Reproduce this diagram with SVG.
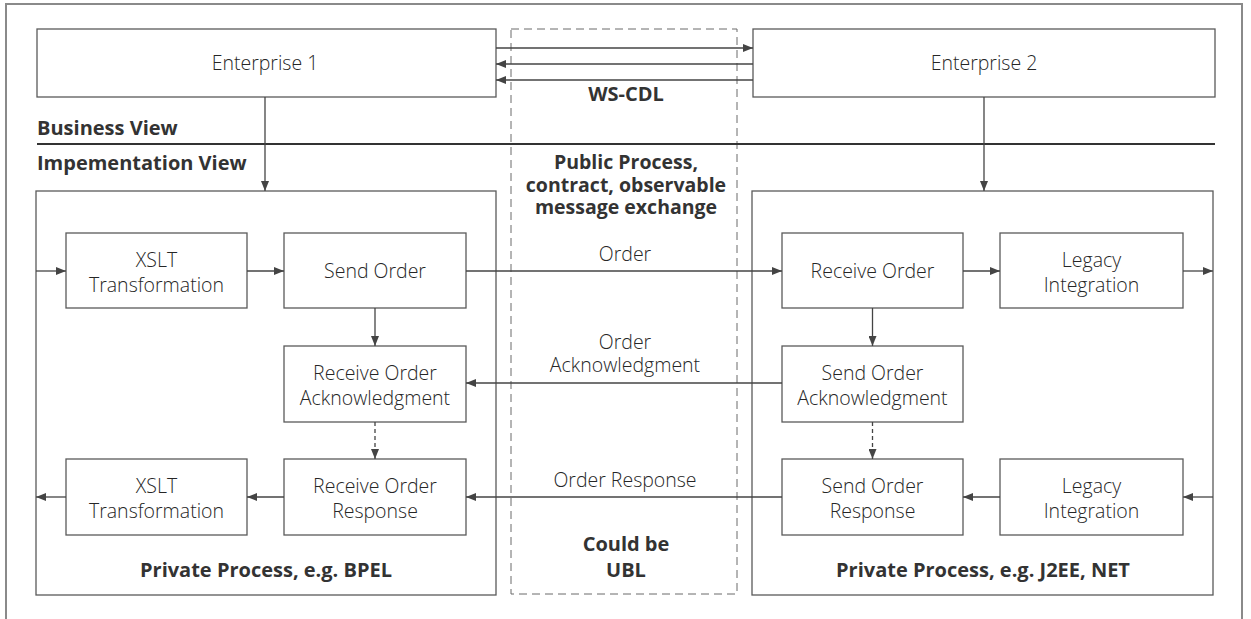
<svg xmlns="http://www.w3.org/2000/svg" width="1251" height="619" viewBox="0 0 1251 619">
<style>
  .bg { fill: #ffffff; }
  .frame { fill: none; stroke: #8a8a8a; stroke-width: 2; }
  .box { fill: #ffffff; stroke: #5a5a5a; stroke-width: 1.3; }
  .panel { fill: none; stroke: #5a5a5a; stroke-width: 1.3; }
  .dash { fill: none; stroke: #6a6a6a; stroke-width: 1; stroke-dasharray: 8 5; }
  .sep { stroke: #333333; stroke-width: 2; }
  .conn { fill: none; stroke: #444444; stroke-width: 1.3; }
  .dconn { fill: none; stroke: #444444; stroke-width: 1.3; stroke-dasharray: 4 3; }
  text { font-family: "Open Sans", "Noto Sans", "Liberation Sans", sans-serif; fill: #262626; }
  .t { font-size: 19.5px; font-weight: 300; text-anchor: middle; }
  .b { font-size: 20px; font-weight: bold; text-anchor: middle; fill: #333333; }
  .bs { font-size: 19.5px; font-weight: bold; text-anchor: middle; fill: #333333; }
  .bl { font-size: 20px; font-weight: bold; fill: #333333; }
</style>
<defs>
  <marker id="ah" viewBox="0 0 10 8" refX="10" refY="4" markerWidth="10" markerHeight="8" markerUnits="userSpaceOnUse" orient="auto">
    <path d="M0,0 L10,4 L0,8 Z" fill="#444444"/>
  </marker>
</defs>
<rect class="bg" x="0" y="0" width="1251" height="619"/>
<rect class="frame" x="6" y="4" width="1236" height="630"/>

<g id="public-area">
  <rect class="dash" x="511" y="29" width="226" height="565"/>
  <text class="b" x="626" y="101">WS-CDL</text>
  <text class="bs" x="626" y="169">Public Process,</text>
  <text class="bs" x="626" y="191.5">contract, observable</text>
  <text class="bs" x="626" y="214">message exchange</text>
  <text class="b" x="626" y="551">Could be</text>
  <text class="b" x="626" y="577">UBL</text>
</g>

<g id="views">
  <text class="bl" x="37" y="135">Business View</text>
  <line class="sep" x1="37" y1="144" x2="1215" y2="144"/>
  <text class="bl" x="37" y="170">Impementation View</text>
</g>

<g id="enterprise1">
  <rect class="box" x="37" y="29" width="459" height="68"/>
  <text class="t" x="265" y="70">Enterprise 1</text>
</g>
<g id="enterprise2">
  <rect class="box" x="753" y="29" width="462" height="68"/>
  <text class="t" x="984" y="70">Enterprise 2</text>
</g>

<g id="private-left">
  <rect class="panel" x="36" y="191" width="460" height="404"/>
  <text class="b" x="266" y="577">Private Process, e.g. BPEL</text>
</g>
<g id="private-right">
  <rect class="panel" x="752" y="191" width="461" height="404"/>
  <text class="b" x="983" y="577">Private Process, e.g. J2EE, NET</text>
</g>

<g id="xslt-top">
  <rect class="box" x="66" y="233" width="181" height="75"/>
  <text class="t" x="156.5" y="267">XSLT</text>
  <text class="t" x="156.5" y="292">Transformation</text>
</g>
<g id="send-order">
  <rect class="box" x="284" y="233" width="182" height="75"/>
  <text class="t" x="375" y="278">Send Order</text>
</g>
<g id="receive-ack">
  <rect class="box" x="284" y="346" width="182" height="76"/>
  <text class="t" x="375" y="380">Receive Order</text>
  <text class="t" x="375" y="405">Acknowledgment</text>
</g>
<g id="receive-response">
  <rect class="box" x="284" y="459" width="182" height="76"/>
  <text class="t" x="375" y="493">Receive Order</text>
  <text class="t" x="375" y="518">Response</text>
</g>
<g id="xslt-bottom">
  <rect class="box" x="66" y="459" width="181" height="76"/>
  <text class="t" x="156.5" y="493">XSLT</text>
  <text class="t" x="156.5" y="518">Transformation</text>
</g>

<g id="receive-order">
  <rect class="box" x="782" y="233" width="181" height="75"/>
  <text class="t" x="872.5" y="278">Receive Order</text>
</g>
<g id="legacy-top">
  <rect class="box" x="1000" y="233" width="183" height="75"/>
  <text class="t" x="1091.5" y="267">Legacy</text>
  <text class="t" x="1091.5" y="292">Integration</text>
</g>
<g id="send-ack">
  <rect class="box" x="782" y="346" width="181" height="76"/>
  <text class="t" x="872.5" y="380">Send Order</text>
  <text class="t" x="872.5" y="405">Acknowledgment</text>
</g>
<g id="send-response">
  <rect class="box" x="782" y="459" width="181" height="76"/>
  <text class="t" x="872.5" y="493">Send Order</text>
  <text class="t" x="872.5" y="518">Response</text>
</g>
<g id="legacy-bottom">
  <rect class="box" x="1000" y="459" width="183" height="76"/>
  <text class="t" x="1091.5" y="493">Legacy</text>
  <text class="t" x="1091.5" y="518">Integration</text>
</g>

<g id="connectors">
  <line class="conn" x1="496" y1="48" x2="753" y2="48" marker-end="url(#ah)"/>
  <line class="conn" x1="753" y1="64" x2="496" y2="64" marker-end="url(#ah)"/>
  <line class="conn" x1="753" y1="80" x2="496" y2="80" marker-end="url(#ah)"/>
  <line class="conn" x1="265" y1="97" x2="265" y2="191" marker-end="url(#ah)"/>
  <line class="conn" x1="984" y1="97" x2="984" y2="191" marker-end="url(#ah)"/>

  <line class="conn" x1="36" y1="271" x2="66" y2="271" marker-end="url(#ah)"/>
  <line class="conn" x1="247" y1="271" x2="284" y2="271" marker-end="url(#ah)"/>
  <line class="conn" x1="375" y1="308" x2="375" y2="346" marker-end="url(#ah)"/>
  <line class="dconn" x1="375" y1="422" x2="375" y2="459" marker-end="url(#ah)"/>
  <line class="conn" x1="284" y1="497" x2="247" y2="497" marker-end="url(#ah)"/>
  <line class="conn" x1="66" y1="497" x2="36" y2="497" marker-end="url(#ah)"/>

  <line class="conn" x1="466" y1="271" x2="782" y2="271" marker-end="url(#ah)"/>
  <text class="t" x="625" y="261">Order</text>
  <line class="conn" x1="782" y1="383" x2="466" y2="383" marker-end="url(#ah)"/>
  <text class="t" x="625" y="349">Order</text>
  <text class="t" x="625" y="372">Acknowledgment</text>
  <line class="conn" x1="782" y1="497" x2="466" y2="497" marker-end="url(#ah)"/>
  <text class="t" x="625" y="487">Order Response</text>

  <line class="conn" x1="963" y1="271" x2="1000" y2="271" marker-end="url(#ah)"/>
  <line class="conn" x1="1183" y1="271" x2="1213" y2="271" marker-end="url(#ah)"/>
  <line class="conn" x1="872.5" y1="308" x2="872.5" y2="346" marker-end="url(#ah)"/>
  <line class="dconn" x1="872.5" y1="422" x2="872.5" y2="459" marker-end="url(#ah)"/>
  <line class="conn" x1="1213" y1="497" x2="1183" y2="497" marker-end="url(#ah)"/>
  <line class="conn" x1="1000" y1="497" x2="963" y2="497" marker-end="url(#ah)"/>
</g>
</svg>
